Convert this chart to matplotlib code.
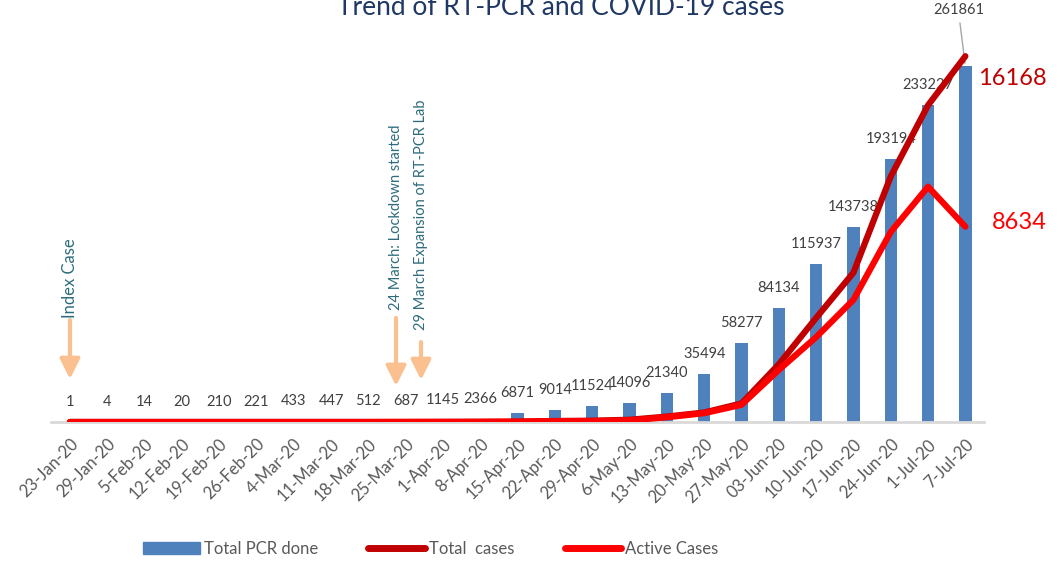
import matplotlib
matplotlib.use('Agg')
import matplotlib.pyplot as plt
from matplotlib.patches import Patch
from matplotlib.lines import Line2D
import numpy as np

plt.rcParams['font.family'] = ['Lato', 'DejaVu Sans']

dates = ['23-Jan-20', '29-Jan-20', '5-Feb-20', '12-Feb-20', '19-Feb-20', '26-Feb-20',
         '4-Mar-20', '11-Mar-20', '18-Mar-20', '25-Mar-20', '1-Apr-20', '8-Apr-20',
         '15-Apr-20', '22-Apr-20', '29-Apr-20', '6-May-20', '13-May-20', '20-May-20',
         '27-May-20', '03-Jun-20', '10-Jun-20', '17-Jun-20', '24-Jun-20', '1-Jul-20',
         '7-Jul-20']
pcr_done = [1, 4, 14, 20, 210, 221, 433, 447, 512, 687, 1145, 2366, 6871, 9014, 11524,
            14096, 21340, 35494, 58277, 84134, 115937, 143738, 193194, 233227, 261861]
total_cases = [1, 1, 1, 1, 1, 1, 1, 1, 1, 3, 5, 9, 16, 45, 57, 99, 240, 420, 820,
               2550, 4600, 6600, 10850, 14000, 16168]
active_cases = [1, 0, 0, 0, 0, 0, 0, 0, 0, 2, 4, 8, 15, 34, 40, 68, 210, 390, 760,
                2300, 3750, 5400, 8400, 10400, 8634]

x = np.arange(len(dates))

fig = plt.figure(figsize=(10.64, 5.61), dpi=100)
ax = fig.add_axes([51.3 / 1064, 139 / 561, 932.7 / 1064, 402 / 561])
ax2 = ax.twinx()

# bars (tests)
ax.bar(x, pcr_done, width=0.33, color='#4F81BD', zorder=2)
ax.set_xlim(-0.5, len(dates) - 0.5)
ax.set_ylim(0, 402 * 735.6)

for i, v in enumerate(pcr_done):
    if i == len(pcr_done) - 1:
        continue
    ax.annotate(str(v), xy=(i, v), xytext=(0, 14.4), textcoords='offset points',
                ha='center', va='center', fontsize=10.5, color='#404040')
ax.annotate(str(pcr_done[-1]), xy=(x[-1], pcr_done[-1]), xytext=(-5, 35),
            textcoords='offset points', ha='center', va='bottom', fontsize=10.5,
            color='#404040',
            arrowprops=dict(arrowstyle='-', color='#A6A6A6', lw=1,
                            shrinkA=2, shrinkB=2))

# cases on second axis
ax2.plot(x, total_cases, color='#C00000', lw=4.5, solid_capstyle='round', zorder=3)
ax2.plot(x, active_cases, color='#FF0000', lw=4.5, solid_capstyle='round', zorder=4)
ax2.set_ylim(0, 402 * 44.2)
ax2.text(25.25, 15200, '16168', color='#C00000', fontsize=17, ha='center', va='center')
ax2.text(25.44, 8840, '8634', color='#FF0000', fontsize=17, ha='center', va='center')

for a in (ax, ax2):
    for s in ['top', 'right', 'left']:
        a.spines[s].set_visible(False)
    a.set_yticks([])
ax.spines['bottom'].set_color('#D9D9D9')
ax.spines['bottom'].set_linewidth(2)
ax2.spines['bottom'].set_visible(False)

ax.set_xticks(x)
ax.set_xticklabels(dates, rotation=45, ha='right', va='top', rotation_mode='anchor',
                   fontsize=12, color='#595959')
ax.tick_params(axis='x', length=0, pad=10)

# event markers
events = [(0, 'Index Case', 76500, 75000, 31600, 12),
          (8.74, '24 March: Lockdown started', 82400, 76500, 26500, 10.5),
          (9.41, '29 March Expansion of RT-PCR Lab', 67700, 58800, 30900, 10.5)]
for ex, label, ty, y0, y1, fs in events:
    ax.annotate('', xy=(ex, y1), xytext=(ex, y0),
                arrowprops=dict(arrowstyle='-|>,head_length=0.6,head_width=0.3',
                                color='#FAC090', lw=3, mutation_scale=20,
                                shrinkA=0, shrinkB=0))
    ax.text(ex, ty, label, rotation=90, ha='center', va='bottom', fontsize=fs,
            color='#2E6C7C')

fig.text(0.527, 1 - 15 / 561, 'Trend of RT-PCR and COVID-19 cases', ha='center',
         va='baseline', fontsize=19, color='#1F3864')

handles = [Patch(color='#4F81BD'),
           Line2D([], [], color='#C00000', lw=5, solid_capstyle='round'),
           Line2D([], [], color='#FF0000', lw=5, solid_capstyle='round')]
labels = ['Total PCR done', 'Total  cases', 'Active Cases']
leg = fig.legend(handles, labels, loc='center', bbox_to_anchor=(0.405, 0.022), ncol=3,
                 frameon=False, fontsize=12, handlelength=3.4, handleheight=0.7,
                 handletextpad=0.25, columnspacing=3.0)
for t in leg.get_texts():
    t.set_color('#595959')

fig.savefig('out.png', dpi=100)
